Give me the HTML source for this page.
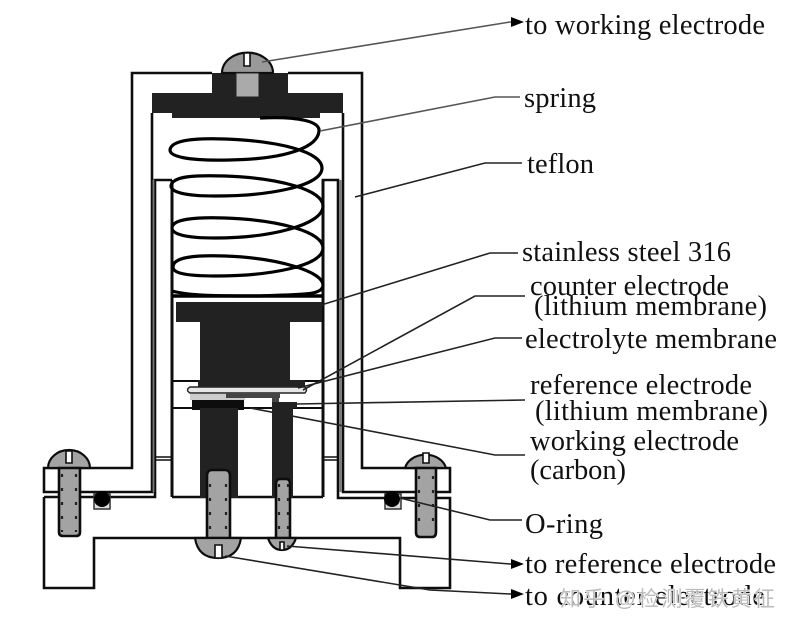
<!DOCTYPE html>
<html><head><meta charset="utf-8"><style>
html,body{margin:0;padding:0;background:#fff}
svg{display:block}
text{font-family:"Liberation Serif","Noto Sans CJK SC",serif;font-size:28.5px;fill:#111}
</style></head><body>
<svg width="795" height="630" viewBox="0 0 795 630" xmlns="http://www.w3.org/2000/svg">
<rect width="795" height="630" fill="#fff"/>
<defs><filter id="b" x="0" y="0" width="100%" height="100%" filterUnits="objectBoundingBox"><feGaussianBlur stdDeviation="0.35"/></filter></defs>
<g filter="url(#b)">
<rect width="795" height="630" fill="#fff"/>
<g fill="none" stroke="#111" stroke-width="2.6">
<path d="M212 73H132V468H44V492H152V113M288 73H362V468H450V492H343V113"/>
<path d="M44 497H155V180H172M172 180V497M44 497V588H94V538H400V588H450V498H338V180H323V497"/>
<path d="M172 497H323" />
<path d="M172 180V497M323 180V497" stroke="#111" stroke-width="3"/>
<path d="M155 457H172M155 460H172M323 457H338M323 460H338" stroke-width="1.4"/>
<path d="M153.500 180V492M340.500 180V492" stroke="#777" stroke-width="1.800"/>
<path d="M172 381H323M172 408H323" stroke-width="2"/>
</g>
<path d="M212 73H288V93H343V113H320V118H172V113H152V93H212Z" fill="#222"/>
<path d="M222 73A25 20 0 0 1 273 73Z" fill="#999" stroke="#111" stroke-width="2.2"/>
<path d="M244 53V66H250V53Z" fill="#fff" stroke="#111" stroke-width="1.6"/>
<rect x="236" y="73" width="23" height="24" fill="#aaa" stroke="#222" stroke-width="1"/>
<path d="M260 118C300 116 320 122 319 131C318 146 290 159 230 160C185 161 170 156 170 150C171 140 195 138 225 139C280 141 322 152 322 168C322 186 270 196 215 196C185 196 171 192 171 186C172 176 195 175 225 176C280 178 323 190 323 206C323 225 270 238 215 238C185 238 172 234 172 228C172 219 195 217 225 218C280 220 323 232 323 248C323 266 270 276 215 276C185 276 173 273 173 267C173 257 195 255 225 256C280 258 323 272 323 285C323 296 300 294 260 296C220 296 190 296 172 291" fill="none" stroke="#050505" stroke-width="3.200"/>
<path d="M176 302H322V322H290V380H305V387H198V380H200V322H176Z" fill="#222"/>
<path d="M172 296H323" stroke="#050505" stroke-width="3.500"/>
<path d="M190 387H305Q308 390 305 393H190Q185 390 190 387Z" fill="#e6e6e6" stroke="#222" stroke-width="1.4"/>
<rect x="190" y="394" width="55" height="6" fill="#ccc"/>
<rect x="226" y="393" width="54" height="5" fill="#444"/>
<rect x="192" y="400" width="52" height="10" fill="#080808"/>
<rect x="272" y="393" width="7" height="12" fill="#444"/>
<rect x="272" y="402" width="25" height="6" fill="#222"/>
<rect x="200" y="408" width="38" height="90" fill="#222"/>
<rect x="272" y="408" width="21" height="90" fill="#222"/>
<g fill="#a3a3a3" stroke="#111" stroke-width="2.2">
<path d="M48 468A21 18 0 0 1 90 468Z"/><path d="M405 468A21 17 0 0 1 446 468Z"/>
<path d="M59 468V532Q59 536 63 536H76Q80 536 80 532V468Z" stroke-width="2.6"/>
<path d="M416 468V532Q416 537 420 537H432Q436 537 436 532V468Z" stroke-width="2.6"/>
<path d="M207 538V476Q207 470 212 470H225Q230 470 230 476V538Z" stroke-width="2.6"/>
<path d="M276 538V484Q276 479 280 479H286Q290 479 290 484V538Z" stroke-width="2.6"/>
<path d="M195 538H241Q238 558 218 558Q198 558 195 538Z"/>
<path d="M268 538H296Q292 550 282 550Q272 550 268 538Z"/>
</g>
<g fill="#fff" stroke="#111" stroke-width="1.6">
<path d="M66 451V463H72V451Z"/><path d="M423 453V463H429V453Z"/>
<path d="M215 558V545H222V558Z"/><path d="M280 550V542H284V550Z"/>
</g>
<g fill="none" stroke="#222" stroke-width="2.200" stroke-dasharray="3 11">
<path d="M62 474V532M76 474V532M419 476V532M433 476V532M210 484V538M226 484V538M279 484V538M288 484V538"/>
</g>
<rect x="94" y="494" width="16" height="15" fill="#ddd" stroke="#333" stroke-width="1.5"/>
<rect x="385" y="494" width="16" height="15" fill="#ddd" stroke="#333" stroke-width="1.5"/>
<circle cx="102" cy="499" r="8" fill="#050505"/><circle cx="392" cy="499" r="8" fill="#050505"/>
<g fill="none" stroke="#222" stroke-width="1.6">
<path d="M262 62L510 22H514" stroke="#555"/>
<path d="M320 131L495 97H520" stroke="#555"/>
<path d="M355 197L485 163H522"/>
<path d="M240 330L490 253H518"/>
<path d="M303 390L475 296H525"/>
<path d="M298 388L495 338H522"/>
<path d="M297 404L525 400"/>
<path d="M250 408L495 455H525"/>
<path d="M400 498L490 520H522"/>
<path d="M287 546L510 564H514"/>
<path d="M225 556L430 590L510 594H514"/>
</g>
<path d="M511 17L524 22L511 27Z M511 559L524 564L511 569Z M511 589L524 594L511 599Z" fill="#050505"/>
</g>
<text x="525" y="34" textLength="240">to working electrode</text>
<text x="524" y="107" textLength="72">spring</text>
<text x="527" y="173" textLength="67">teflon</text>
<text x="522" y="261" textLength="209">stainless steel 316</text>
<text x="530" y="295" textLength="199">counter electrode</text>
<text x="534" y="315" textLength="233">(lithium membrane)</text>
<text x="525" y="348" textLength="252">electrolyte membrane</text>
<text x="530" y="394" textLength="222">reference electrode</text>
<text x="535" y="420" textLength="233">(lithium membrane)</text>
<text x="530" y="450" textLength="209">working electrode</text>
<text x="530" y="479" textLength="96">(carbon)</text>
<text x="525" y="533" textLength="78">O-ring</text>
<text x="525" y="573" textLength="251">to reference electrode</text>
<text x="525" y="605" textLength="240">to counter electrode</text>
<text x="560" y="606" textLength="215" style="font-size:21px;fill:#bbb;stroke:#fff;stroke-width:1px;paint-order:stroke;font-family:'Liberation Sans','Noto Sans CJK SC',sans-serif">知乎 @检测覆铁黄征</text>
</svg>
</body></html>
